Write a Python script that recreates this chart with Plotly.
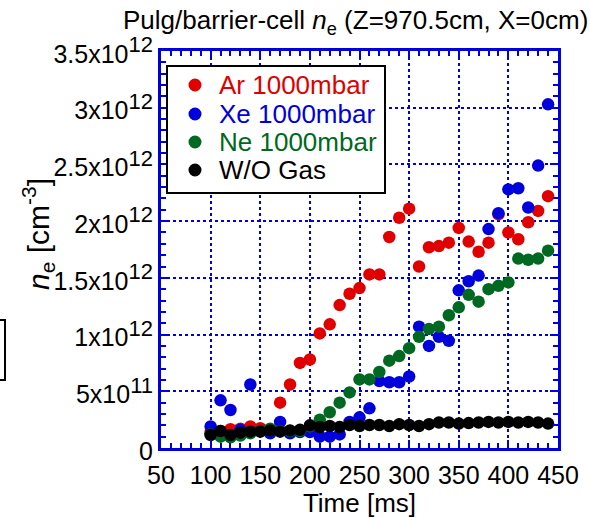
import plotly.graph_objects as go

# ---- data (density in units of 1e12 cm^-3) ----
time_ms = [100, 110, 120, 130, 140, 150, 160, 170, 180, 190, 200, 210, 220, 230, 240,
           250, 260, 270, 280, 290, 300, 310, 320, 330, 340, 350, 360, 370, 380, 390,
           400, 410, 420, 430, 440]
ar_1000 = [0.14, 0.15, 0.165, 0.17, 0.19, 0.175, 0.16, 0.40, 0.56, 0.75, 0.78, 1.01, 1.09, 1.26, 1.36,
           1.41, 1.53, 1.53, 1.86, 2.03, 2.11, 1.60, 1.77, 1.78, 1.81, 1.94, 1.82, 1.73, 1.81, 2.06,
           1.90, 1.84, 1.99, 2.09, 2.22]
xe_1000 = [0.19, 0.42, 0.335, 0.16, 0.56, 0.15, 0.13, 0.23, 0.13, 0.14, 0.14, 0.10, 0.10, 0.12, 0.23,
           0.27, 0.35, 0.59, 0.58, 0.58, 0.63, 1.07, 0.90, 0.98, 0.945, 1.39, 1.47, 1.52, 1.93, 2.07,
           2.28, 2.29, 2.12, 2.49, 3.03]
ne_1000 = [0.12, 0.10, 0.095, 0.11, 0.13, 0.15, 0.17, 0.15, 0.15, 0.15, 0.19, 0.25, 0.315, 0.40, 0.49,
           0.605, 0.605, 0.67, 0.77, 0.81, 0.88, 0.98, 1.05, 1.07, 1.17, 1.24, 1.35, 1.29, 1.40, 1.43,
           1.46, 1.67, 1.66, 1.67, 1.74]
wo_gas = [0.115, 0.15, 0.115, 0.135, 0.144, 0.144, 0.155, 0.144, 0.155, 0.16, 0.20, 0.185, 0.194, 0.185, 0.203,
          0.194, 0.203, 0.203, 0.194, 0.21, 0.203, 0.194, 0.21, 0.225, 0.225, 0.215, 0.22, 0.225, 0.23, 0.225,
          0.23, 0.225, 0.23, 0.225, 0.215]

series_names = ["Ar 1000mbar", "Xe 1000mbar", "Ne 1000mbar", "W/O Gas"]
series_vals = [ar_1000, xe_1000, ne_1000, wo_gas]
series_colors = ["#E00000", "#0000DD", "#006820", "#000000"]

y_tickvals = [0, 0.5e12, 1e12, 1.5e12, 2e12, 2.5e12, 3e12, 3.5e12]
y_mantissa = ["0", "5", "1", "1.5", "2", "2.5", "3", "3.5"]
y_exponent = ["", "11", "12", "12", "12", "12", "12", "12"]

FONT = "Liberation Sans, Arial, sans-serif"
AXC = "#0000DD"

def sci_label(m, e):
    if not e:
        return m
    return m + "x10<sup><span style='font-size:22px'>" + e + "</span></sup>"

y_ticktext = [sci_label(m, e) for m, e in zip(y_mantissa, y_exponent)]

fig = go.Figure()
for name, vals, col in zip(series_names, series_vals, series_colors):
    fig.add_trace(go.Scatter(
        x=time_ms, y=[v * 1e12 for v in vals], mode="markers", name=name,
        marker=dict(size=12.5, color=col, line=dict(width=0)), showlegend=False))

axis_common = dict(
    showline=True, linecolor=AXC, linewidth=3, mirror="allticks",
    ticks="inside", ticklen=8, tickwidth=2, tickcolor=AXC,
    showgrid=True, gridcolor=AXC, gridwidth=2, griddash="dot",
    zeroline=False, automargin=False,
    tickfont=dict(family=FONT, size=25, color="black"),
)
fig.update_xaxes(range=[50, 450], tickmode="linear", tick0=50, dtick=50,
                 minor=dict(ticks="inside", dtick=10, ticklen=5, tickwidth=2, tickcolor=AXC, showgrid=False),
                 title=dict(text="Time [ms]", font=dict(family=FONT, size=26, color="black"), standoff=7),
                 ticklabelstandoff=3,
                 **axis_common)
fig.update_yaxes(range=[0, 3.5e12], tickmode="array", tickvals=y_tickvals, ticktext=y_ticktext,
                 minor=dict(ticks="inside", dtick=1e11, tick0=0, ticklen=5, tickwidth=2, tickcolor=AXC, showgrid=False),
                 ticklabelshift=3,
                 **axis_common)

# plot area: x 161..558, y 51..448 px
W, H = 590, 518
L, R, T, B = 161, 32, 51, 70
pw, ph = W - L - R, H - T - B

def px2paper_x(px):
    return (px - L) / pw

def px2paper_y(py):
    return (H - B - py) / ph

# y-axis title
fig.add_annotation(text="<i>n</i><sub>e</sub> [cm<sup>-3</sup>]", textangle=-90,
                   xref="paper", yref="paper", x=px2paper_x(15), y=px2paper_y(234),
                   showarrow=False, font=dict(family=FONT, size=30, color="black"))

# manual legend box
fig.add_shape(type="rect", xref="paper", yref="paper",
              x0=px2paper_x(167), x1=px2paper_x(385), y0=px2paper_y(193), y1=px2paper_y(66),
              line=dict(color="black", width=2), fillcolor="white", layer="above")
leg_y = [85, 114, 142, 170]
for name, col, ly in zip(series_names, series_colors, leg_y):
    fig.add_shape(type="circle", xref="paper", yref="paper", xsizemode="pixel", ysizemode="pixel",
                  xanchor=px2paper_x(195), yanchor=px2paper_y(ly), x0=-6.5, x1=6.5, y0=-6.5, y1=6.5,
                  fillcolor=col, line=dict(width=0), layer="above")
    fig.add_annotation(text=name, xref="paper", yref="paper", x=px2paper_x(217), y=px2paper_y(ly),
                       xanchor="left", yanchor="middle", showarrow=False,
                       font=dict(family=FONT, size=26, color=col))

# partial box at far left (cut off in original)
fig.add_shape(type="rect", xref="paper", yref="paper",
              x0=px2paper_x(-20), x1=px2paper_x(5), y0=px2paper_y(380), y1=px2paper_y(320),
              line=dict(color="black", width=2))

fig.update_layout(
    width=W, height=H,
    margin=dict(l=L, r=R, t=T, b=B, autoexpand=False),
    paper_bgcolor="white", plot_bgcolor="white",
    title=dict(text="Pulg/barrier-cell <i>n</i><sub>e</sub> (Z=970.5cm, X=0cm)",
               x=123 / W, xanchor="left", xref="container",
               y=1 - 20 / H, yanchor="middle", yref="container",
               font=dict(family=FONT, size=26, color="black")),
    font=dict(family=FONT, color="black"),
)

fig.write_html("out.html")
